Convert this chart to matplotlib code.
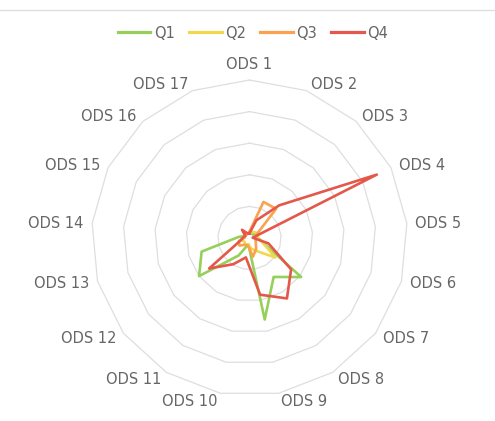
import numpy as np
import matplotlib
matplotlib.use("Agg")
import matplotlib.pyplot as plt
from matplotlib.lines import Line2D

plt.rcParams["font.family"] = ["DejaVu Sans"]

# --- data -------------------------------------------------------------
categories = ["ODS 1", "ODS 2", "ODS 3", "ODS 4", "ODS 5", "ODS 6", "ODS 7",
              "ODS 8", "ODS 9", "ODS 10", "ODS 11", "ODS 12", "ODS 13",
              "ODS 14", "ODS 15", "ODS 16", "ODS 17"]
series_names = ["Q1", "Q2", "Q3", "Q4"]
q1 = [3, 3, 3, 6, 5, 8, 41, 29, 52.5, 4, 13, 40, 31.5, 7, 3, 3, 3]
q2 = [3, 4, 5, 6, 5, 8, 20.5, 10, 7, 4, 5, 4, 5, 4, 3, 3, 3]
q3 = [4, 24.5, 25, 5, 4, 4, 5, 8, 12, 5, 5, 8, 7, 3, 3, 3, 3]
q4 = [3, 12, 28, 90, 2, 12.5, 33, 45, 36.5, 12.5, 19.5, 32, 6, 4, 3, 7, 3]
ring_values = [20, 40, 60, 80, 100]

colors = ["#96d05a", "#f0d84e", "#fba24f", "#e4574a"]
grid_color = "#dedede"
text_color = "#666666"

# --- figure -----------------------------------------------------------
W, H = 495, 421
fig = plt.figure(figsize=(W / 100, H / 100), dpi=100)
fig.patch.set_facecolor("white")

cx, cy, R = 249.5, 238, 158
ax = fig.add_axes([(cx - R) / W, (H - cy - R) / H, 2 * R / W, 2 * R / H],
                  projection="polar")
ax.set_theta_zero_location("N")
ax.set_theta_direction(-1)
ax.set_ylim(0, ring_values[-1])
ax.set_xticks([])
ax.set_yticks([])
ax.grid(False)
ax.spines["polar"].set_visible(False)
ax.patch.set_alpha(0)

n = len(categories)
angles = np.arange(n) * 2 * np.pi / n
closed = np.append(angles, angles[0])

# polygonal rings
for v in ring_values:
    ax.plot(closed, [v] * (n + 1), color=grid_color, lw=0.9, zorder=1,
            clip_on=False)

# series
for name, vals, col in zip(series_names, [q1, q2, q3, q4], colors):
    ax.plot(closed, list(vals) + [vals[0]], color=col, lw=1.9, zorder=3,
            solid_joinstyle="round", label=name, clip_on=False)

# axis labels around the outer ring
fs = 10.5
cap_px = fs / 72 * 100 * 0.73
for th, name in zip(angles, categories):
    s, c = np.sin(th), np.cos(th)
    if abs(s) < 0.05:
        ha = "center"
        dx = 0
    else:
        ha = "left" if s > 0 else "right"
        dx = np.sign(s) * (1.5 + 7 * abs(s))
    if c > 0.99:
        dyc = 16.5
    else:
        dyc = 7 * c
    ax.annotate(name, xy=(th, ring_values[-1]), xycoords="data",
                xytext=(dx, dyc - cap_px / 2), textcoords="offset pixels",
                ha=ha, va="baseline", fontsize=fs, color=text_color,
                annotation_clip=False)

# legend
handles = [Line2D([0], [0], color=c, lw=2.3) for c in colors]
fig.legend(handles, series_names, loc="center",
           bbox_to_anchor=(253 / W, 1 - 33 / H), ncol=4, frameon=False,
           handlelength=2.25, handletextpad=0.25, columnspacing=0.95,
           fontsize=fs, labelcolor=text_color)

# thin rule across the top
fig.add_artist(Line2D([0, 1], [1 - 10 / H] * 2, color="#e0e0e0", lw=1,
                      transform=fig.transFigure))

fig.savefig("out.png", dpi=100)
